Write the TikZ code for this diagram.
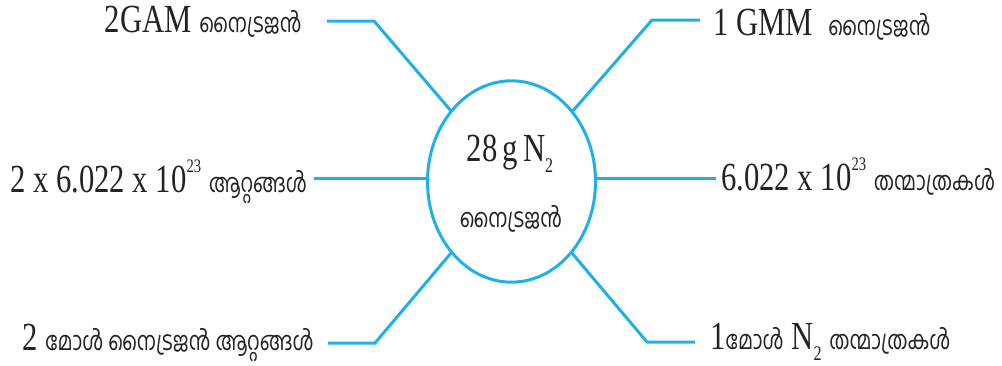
\documentclass[tikz,border=0pt]{standalone}
\usepackage{fontspec}
\usepackage{graphicx}
\setmainfont{Liberation Serif}
\newfontfamily\mlfont[Script=Malayalam]{Hind Kochi}
\newcommand\ml[1]{{\mlfont\fontsize{15}{18}\selectfont #1}}
\newcommand\tall[1]{\scalebox{1}[1.3]{#1}}
\newcommand\sups[1]{\raisebox{0.5em}{\fontsize{11}{12}\selectfont #1}}
\newcommand\subs[1]{\raisebox{-0.3em}{\fontsize{12}{12}\selectfont #1}}
\definecolor{linecol}{RGB}{32,176,232}
\definecolor{txtcol}{RGB}{35,35,35}
\tikzset{
  conn/.style={draw=linecol, line width=2.25pt, line join=miter},
  lbl/.style={inner sep=0pt, text=txtcol, font=\fontsize{23}{27}\selectfont},
  hub/.style={ellipse, draw=linecol, line width=2.25pt, inner sep=0pt,
              minimum width=126pt, minimum height=151pt},
}
\usetikzlibrary{shapes.geometric}
\begin{document}
\begin{tikzpicture}[x=0.75pt, y=-0.75pt]
\useasboundingbox (0,0) rectangle (1002,365);
% hub
\node[hub] (c) at (511.5,181.5) {};
\node[lbl, anchor=base] (ct1) at (510,161) {\tall{28\,g\,N\subs{2}}};
\node[lbl, anchor=base] (ct2) at (511,227) {\tall{\ml{നൈട്രജൻ}}};
% labels
\node[lbl, anchor=base east] (t1) at (302,32) {\tall{2GAM \ml{നൈട്രജൻ}}};
\node[lbl, anchor=base west] (t2) at (713,35) {\tall{1 GMM\enspace\ml{നൈട്രജൻ}}};
\node[lbl, anchor=base west] (t3) at (10,192) {\tall{2 x 6.022 x 10\sups{23} \ml{ആറ്റങ്ങൾ}}};
\node[lbl, anchor=base west] (t4) at (721,190) {\tall{6.022 x 10\sups{23} \ml{തന്മാത്രകൾ}}};
\node[lbl, anchor=base west] (t5) at (22,350) {\tall{2 \ml{മോൾ നൈട്രജൻ ആറ്റങ്ങൾ}}};
\node[lbl, anchor=base west] (t6) at (710,349) {\tall{1\ml{മോൾ} N\subs{2} \ml{തന്മാത്രകൾ}}};
% connector points
\coordinate (e1) at (327,21);  \coordinate (b1) at (374,21);
\coordinate (e2) at (700,20);  \coordinate (b2) at (652,20);
\coordinate (e3) at (314,178);
\coordinate (e4) at (716,178);
\coordinate (e5) at (328,343); \coordinate (b5) at (375,343);
\coordinate (e6) at (695,342); \coordinate (b6) at (647,342);
% connectors
\draw[conn] (e1) -- (b1) -- (c);
\draw[conn] (e2) -- (b2) -- (c);
\draw[conn] (e3) -- (e3 -| c.west);
\draw[conn] (e4) -- (e4 -| c.east);
\draw[conn] (e5) -- (b5) -- (c);
\draw[conn] (e6) -- (b6) -- (c);
\end{tikzpicture}
\end{document}
